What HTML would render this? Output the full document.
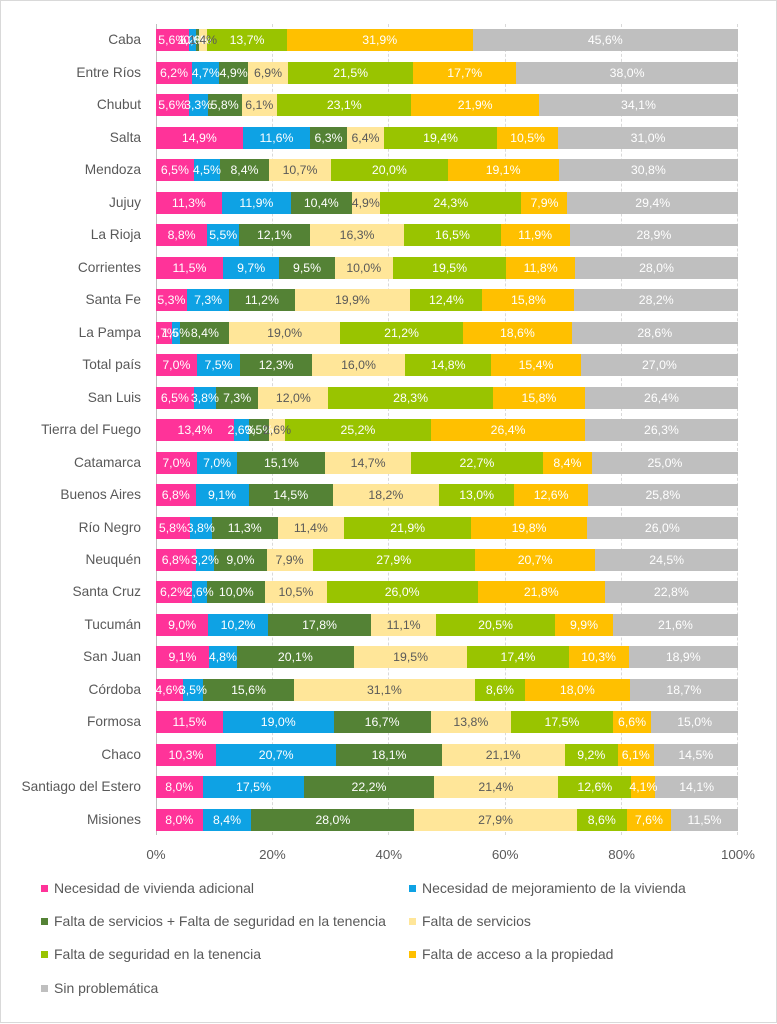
<!DOCTYPE html>
<html><head><meta charset="utf-8">
<style>
html,body{margin:0;padding:0;background:#fff;}
body{width:777px;height:1024px;position:relative;overflow:hidden;font-family:"Liberation Sans",Arial,sans-serif;}
.frame{position:absolute;left:0;top:0;width:775px;height:1021px;border:1px solid #d9d9d9;}
.grid{position:absolute;top:24px;height:811px;width:0;border-left:1px dashed #d9d9d9;}
.axis{position:absolute;left:155.5px;top:24px;height:811px;width:1px;background:#bfbfbf;}
.cat{position:absolute;right:636px;width:160px;text-align:right;font-size:13.7px;color:#595959;line-height:22px;white-space:nowrap;}
.bar{position:absolute;left:156px;width:582px;height:22px;display:flex;}
.bar span{position:relative;height:22px;min-width:0;}
.bar span b{position:absolute;left:50%;top:0;transform:translateX(-50%);z-index:2;font-weight:normal;font-size:12.3px;line-height:22px;white-space:nowrap;color:#fff;}
.p{background:#ff3399;} .u{background:#0ea2e4;} .d{background:#548235;} .y{background:#ffe699;} .g{background:#99c400;} .o{background:#ffc000;} .s{background:#bfbfbf;flex:1 1 0 !important;}
.y b{color:#595959 !important;}
.tick{position:absolute;top:847px;font-size:13.3px;color:#595959;width:60px;text-align:center;line-height:16px;}
.leg{position:absolute;font-size:14px;color:#595959;line-height:16px;white-space:nowrap;}
.leg i{position:absolute;left:-13px;top:4.5px;width:7px;height:7px;}
</style></head><body>
<div class="frame"></div>
<div class="axis"></div>
<div class="grid" style="left:272px"></div>
<div class="grid" style="left:388px"></div>
<div class="grid" style="left:505px"></div>
<div class="grid" style="left:621px"></div>
<div class="grid" style="left:737px"></div>

<div class="cat" style="top:29.3px">Caba</div>
<div class="bar" style="top:29.3px"><span class="p" style="flex:0 0 5.6%"><b>5,6%</b></span><span class="u" style="flex:0 0 1.2%"><b>1,2%</b></span><span class="d" style="flex:0 0 0.6%"><b>0,6%</b></span><span class="y" style="flex:0 0 1.4%"><b>1,4%</b></span><span class="g" style="flex:0 0 13.7%"><b>13,7%</b></span><span class="o" style="flex:0 0 31.9%"><b>31,9%</b></span><span class="s"><b>45,6%</b></span></div>

<div class="cat" style="top:61.78px">Entre Ríos</div>
<div class="bar" style="top:61.78px"><span class="p" style="flex:0 0 6.2%"><b>6,2%</b></span><span class="u" style="flex:0 0 4.7%"><b>4,7%</b></span><span class="d" style="flex:0 0 4.9%"><b>4,9%</b></span><span class="y" style="flex:0 0 6.9%"><b>6,9%</b></span><span class="g" style="flex:0 0 21.5%"><b>21,5%</b></span><span class="o" style="flex:0 0 17.7%"><b>17,7%</b></span><span class="s"><b>38,0%</b></span></div>

<div class="cat" style="top:94.26px">Chubut</div>
<div class="bar" style="top:94.26px"><span class="p" style="flex:0 0 5.6%"><b>5,6%</b></span><span class="u" style="flex:0 0 3.3%"><b>3,3%</b></span><span class="d" style="flex:0 0 5.8%"><b>5,8%</b></span><span class="y" style="flex:0 0 6.1%"><b>6,1%</b></span><span class="g" style="flex:0 0 23.1%"><b>23,1%</b></span><span class="o" style="flex:0 0 21.9%"><b>21,9%</b></span><span class="s"><b>34,1%</b></span></div>

<div class="cat" style="top:126.74px">Salta</div>
<div class="bar" style="top:126.74px"><span class="p" style="flex:0 0 14.9%"><b>14,9%</b></span><span class="u" style="flex:0 0 11.6%"><b>11,6%</b></span><span class="d" style="flex:0 0 6.3%"><b>6,3%</b></span><span class="y" style="flex:0 0 6.4%"><b>6,4%</b></span><span class="g" style="flex:0 0 19.4%"><b>19,4%</b></span><span class="o" style="flex:0 0 10.5%"><b>10,5%</b></span><span class="s"><b>31,0%</b></span></div>

<div class="cat" style="top:159.22px">Mendoza</div>
<div class="bar" style="top:159.22px"><span class="p" style="flex:0 0 6.5%"><b>6,5%</b></span><span class="u" style="flex:0 0 4.5%"><b>4,5%</b></span><span class="d" style="flex:0 0 8.4%"><b>8,4%</b></span><span class="y" style="flex:0 0 10.7%"><b>10,7%</b></span><span class="g" style="flex:0 0 20.0%"><b>20,0%</b></span><span class="o" style="flex:0 0 19.1%"><b>19,1%</b></span><span class="s"><b>30,8%</b></span></div>

<div class="cat" style="top:191.7px">Jujuy</div>
<div class="bar" style="top:191.7px"><span class="p" style="flex:0 0 11.3%"><b>11,3%</b></span><span class="u" style="flex:0 0 11.9%"><b>11,9%</b></span><span class="d" style="flex:0 0 10.4%"><b>10,4%</b></span><span class="y" style="flex:0 0 4.9%"><b>4,9%</b></span><span class="g" style="flex:0 0 24.3%"><b>24,3%</b></span><span class="o" style="flex:0 0 7.9%"><b>7,9%</b></span><span class="s"><b>29,4%</b></span></div>

<div class="cat" style="top:224.18px">La Rioja</div>
<div class="bar" style="top:224.18px"><span class="p" style="flex:0 0 8.8%"><b>8,8%</b></span><span class="u" style="flex:0 0 5.5%"><b>5,5%</b></span><span class="d" style="flex:0 0 12.1%"><b>12,1%</b></span><span class="y" style="flex:0 0 16.3%"><b>16,3%</b></span><span class="g" style="flex:0 0 16.5%"><b>16,5%</b></span><span class="o" style="flex:0 0 11.9%"><b>11,9%</b></span><span class="s"><b>28,9%</b></span></div>

<div class="cat" style="top:256.66px">Corrientes</div>
<div class="bar" style="top:256.66px"><span class="p" style="flex:0 0 11.5%"><b>11,5%</b></span><span class="u" style="flex:0 0 9.7%"><b>9,7%</b></span><span class="d" style="flex:0 0 9.5%"><b>9,5%</b></span><span class="y" style="flex:0 0 10.0%"><b>10,0%</b></span><span class="g" style="flex:0 0 19.5%"><b>19,5%</b></span><span class="o" style="flex:0 0 11.8%"><b>11,8%</b></span><span class="s"><b>28,0%</b></span></div>

<div class="cat" style="top:289.14px">Santa Fe</div>
<div class="bar" style="top:289.14px"><span class="p" style="flex:0 0 5.3%"><b>5,3%</b></span><span class="u" style="flex:0 0 7.3%"><b>7,3%</b></span><span class="d" style="flex:0 0 11.2%"><b>11,2%</b></span><span class="y" style="flex:0 0 19.9%"><b>19,9%</b></span><span class="g" style="flex:0 0 12.4%"><b>12,4%</b></span><span class="o" style="flex:0 0 15.8%"><b>15,8%</b></span><span class="s"><b>28,2%</b></span></div>

<div class="cat" style="top:321.62px">La Pampa</div>
<div class="bar" style="top:321.62px"><span class="p" style="flex:0 0 2.7%"><b>2,7%</b></span><span class="u" style="flex:0 0 1.5%"><b>1,5%</b></span><span class="d" style="flex:0 0 8.4%"><b>8,4%</b></span><span class="y" style="flex:0 0 19.0%"><b>19,0%</b></span><span class="g" style="flex:0 0 21.2%"><b>21,2%</b></span><span class="o" style="flex:0 0 18.6%"><b>18,6%</b></span><span class="s"><b>28,6%</b></span></div>

<div class="cat" style="top:354.1px">Total país</div>
<div class="bar" style="top:354.1px"><span class="p" style="flex:0 0 7.0%"><b>7,0%</b></span><span class="u" style="flex:0 0 7.5%"><b>7,5%</b></span><span class="d" style="flex:0 0 12.3%"><b>12,3%</b></span><span class="y" style="flex:0 0 16.0%"><b>16,0%</b></span><span class="g" style="flex:0 0 14.8%"><b>14,8%</b></span><span class="o" style="flex:0 0 15.4%"><b>15,4%</b></span><span class="s"><b>27,0%</b></span></div>

<div class="cat" style="top:386.58px">San Luis</div>
<div class="bar" style="top:386.58px"><span class="p" style="flex:0 0 6.5%"><b>6,5%</b></span><span class="u" style="flex:0 0 3.8%"><b>3,8%</b></span><span class="d" style="flex:0 0 7.3%"><b>7,3%</b></span><span class="y" style="flex:0 0 12.0%"><b>12,0%</b></span><span class="g" style="flex:0 0 28.3%"><b>28,3%</b></span><span class="o" style="flex:0 0 15.8%"><b>15,8%</b></span><span class="s"><b>26,4%</b></span></div>

<div class="cat" style="top:419.06px">Tierra del Fuego</div>
<div class="bar" style="top:419.06px"><span class="p" style="flex:0 0 13.4%"><b>13,4%</b></span><span class="u" style="flex:0 0 2.6%"><b>2,6%</b></span><span class="d" style="flex:0 0 3.5%"><b>3,5%</b></span><span class="y" style="flex:0 0 2.6%"><b>2,6%</b></span><span class="g" style="flex:0 0 25.2%"><b>25,2%</b></span><span class="o" style="flex:0 0 26.4%"><b>26,4%</b></span><span class="s"><b>26,3%</b></span></div>

<div class="cat" style="top:451.54px">Catamarca</div>
<div class="bar" style="top:451.54px"><span class="p" style="flex:0 0 7.0%"><b>7,0%</b></span><span class="u" style="flex:0 0 7.0%"><b>7,0%</b></span><span class="d" style="flex:0 0 15.1%"><b>15,1%</b></span><span class="y" style="flex:0 0 14.7%"><b>14,7%</b></span><span class="g" style="flex:0 0 22.7%"><b>22,7%</b></span><span class="o" style="flex:0 0 8.4%"><b>8,4%</b></span><span class="s"><b>25,0%</b></span></div>

<div class="cat" style="top:484.02px">Buenos Aires</div>
<div class="bar" style="top:484.02px"><span class="p" style="flex:0 0 6.8%"><b>6,8%</b></span><span class="u" style="flex:0 0 9.1%"><b>9,1%</b></span><span class="d" style="flex:0 0 14.5%"><b>14,5%</b></span><span class="y" style="flex:0 0 18.2%"><b>18,2%</b></span><span class="g" style="flex:0 0 13.0%"><b>13,0%</b></span><span class="o" style="flex:0 0 12.6%"><b>12,6%</b></span><span class="s"><b>25,8%</b></span></div>

<div class="cat" style="top:516.5px">Río Negro</div>
<div class="bar" style="top:516.5px"><span class="p" style="flex:0 0 5.8%"><b>5,8%</b></span><span class="u" style="flex:0 0 3.8%"><b>3,8%</b></span><span class="d" style="flex:0 0 11.3%"><b>11,3%</b></span><span class="y" style="flex:0 0 11.4%"><b>11,4%</b></span><span class="g" style="flex:0 0 21.9%"><b>21,9%</b></span><span class="o" style="flex:0 0 19.8%"><b>19,8%</b></span><span class="s"><b>26,0%</b></span></div>

<div class="cat" style="top:548.98px">Neuquén</div>
<div class="bar" style="top:548.98px"><span class="p" style="flex:0 0 6.8%"><b>6,8%</b></span><span class="u" style="flex:0 0 3.2%"><b>3,2%</b></span><span class="d" style="flex:0 0 9.0%"><b>9,0%</b></span><span class="y" style="flex:0 0 7.9%"><b>7,9%</b></span><span class="g" style="flex:0 0 27.9%"><b>27,9%</b></span><span class="o" style="flex:0 0 20.7%"><b>20,7%</b></span><span class="s"><b>24,5%</b></span></div>

<div class="cat" style="top:581.46px">Santa Cruz</div>
<div class="bar" style="top:581.46px"><span class="p" style="flex:0 0 6.2%"><b>6,2%</b></span><span class="u" style="flex:0 0 2.6%"><b>2,6%</b></span><span class="d" style="flex:0 0 10.0%"><b>10,0%</b></span><span class="y" style="flex:0 0 10.5%"><b>10,5%</b></span><span class="g" style="flex:0 0 26.0%"><b>26,0%</b></span><span class="o" style="flex:0 0 21.8%"><b>21,8%</b></span><span class="s"><b>22,8%</b></span></div>

<div class="cat" style="top:613.94px">Tucumán</div>
<div class="bar" style="top:613.94px"><span class="p" style="flex:0 0 9.0%"><b>9,0%</b></span><span class="u" style="flex:0 0 10.2%"><b>10,2%</b></span><span class="d" style="flex:0 0 17.8%"><b>17,8%</b></span><span class="y" style="flex:0 0 11.1%"><b>11,1%</b></span><span class="g" style="flex:0 0 20.5%"><b>20,5%</b></span><span class="o" style="flex:0 0 9.9%"><b>9,9%</b></span><span class="s"><b>21,6%</b></span></div>

<div class="cat" style="top:646.42px">San Juan</div>
<div class="bar" style="top:646.42px"><span class="p" style="flex:0 0 9.1%"><b>9,1%</b></span><span class="u" style="flex:0 0 4.8%"><b>4,8%</b></span><span class="d" style="flex:0 0 20.1%"><b>20,1%</b></span><span class="y" style="flex:0 0 19.5%"><b>19,5%</b></span><span class="g" style="flex:0 0 17.4%"><b>17,4%</b></span><span class="o" style="flex:0 0 10.3%"><b>10,3%</b></span><span class="s"><b>18,9%</b></span></div>

<div class="cat" style="top:678.9px">Córdoba</div>
<div class="bar" style="top:678.9px"><span class="p" style="flex:0 0 4.6%"><b>4,6%</b></span><span class="u" style="flex:0 0 3.5%"><b>3,5%</b></span><span class="d" style="flex:0 0 15.6%"><b>15,6%</b></span><span class="y" style="flex:0 0 31.1%"><b>31,1%</b></span><span class="g" style="flex:0 0 8.6%"><b>8,6%</b></span><span class="o" style="flex:0 0 18.0%"><b>18,0%</b></span><span class="s"><b>18,7%</b></span></div>

<div class="cat" style="top:711.38px">Formosa</div>
<div class="bar" style="top:711.38px"><span class="p" style="flex:0 0 11.5%"><b>11,5%</b></span><span class="u" style="flex:0 0 19.0%"><b>19,0%</b></span><span class="d" style="flex:0 0 16.7%"><b>16,7%</b></span><span class="y" style="flex:0 0 13.8%"><b>13,8%</b></span><span class="g" style="flex:0 0 17.5%"><b>17,5%</b></span><span class="o" style="flex:0 0 6.6%"><b>6,6%</b></span><span class="s"><b>15,0%</b></span></div>

<div class="cat" style="top:743.86px">Chaco</div>
<div class="bar" style="top:743.86px"><span class="p" style="flex:0 0 10.3%"><b>10,3%</b></span><span class="u" style="flex:0 0 20.7%"><b>20,7%</b></span><span class="d" style="flex:0 0 18.1%"><b>18,1%</b></span><span class="y" style="flex:0 0 21.1%"><b>21,1%</b></span><span class="g" style="flex:0 0 9.2%"><b>9,2%</b></span><span class="o" style="flex:0 0 6.1%"><b>6,1%</b></span><span class="s"><b>14,5%</b></span></div>

<div class="cat" style="top:776.34px">Santiago del Estero</div>
<div class="bar" style="top:776.34px"><span class="p" style="flex:0 0 8.0%"><b>8,0%</b></span><span class="u" style="flex:0 0 17.5%"><b>17,5%</b></span><span class="d" style="flex:0 0 22.2%"><b>22,2%</b></span><span class="y" style="flex:0 0 21.4%"><b>21,4%</b></span><span class="g" style="flex:0 0 12.6%"><b>12,6%</b></span><span class="o" style="flex:0 0 4.1%"><b>4,1%</b></span><span class="s"><b>14,1%</b></span></div>

<div class="cat" style="top:808.82px">Misiones</div>
<div class="bar" style="top:808.82px"><span class="p" style="flex:0 0 8.0%"><b>8,0%</b></span><span class="u" style="flex:0 0 8.4%"><b>8,4%</b></span><span class="d" style="flex:0 0 28.0%"><b>28,0%</b></span><span class="y" style="flex:0 0 27.9%"><b>27,9%</b></span><span class="g" style="flex:0 0 8.6%"><b>8,6%</b></span><span class="o" style="flex:0 0 7.6%"><b>7,6%</b></span><span class="s"><b>11,5%</b></span></div>

<div class="tick" style="left:126px">0%</div>
<div class="tick" style="left:242.4px">20%</div>
<div class="tick" style="left:358.8px">40%</div>
<div class="tick" style="left:475.2px">60%</div>
<div class="tick" style="left:591.6px">80%</div>
<div class="tick" style="left:708px">100%</div>

<div class="leg" style="left:54px;top:880px"><i style="background:#ff3399"></i>Necesidad de vivienda adicional</div>
<div class="leg" style="left:422px;top:880px"><i style="background:#0ea2e4"></i>Necesidad de mejoramiento de la vivienda</div>
<div class="leg" style="left:54px;top:913px"><i style="background:#548235"></i>Falta de servicios + Falta de seguridad en la tenencia</div>
<div class="leg" style="left:422px;top:913px"><i style="background:#ffe699"></i>Falta de servicios</div>
<div class="leg" style="left:54px;top:946px"><i style="background:#99c400"></i>Falta de seguridad en la tenencia</div>
<div class="leg" style="left:422px;top:946px"><i style="background:#ffc000"></i>Falta de acceso a la propiedad</div>
<div class="leg" style="left:54px;top:980px"><i style="background:#bfbfbf"></i>Sin problemática</div>
</body></html>
